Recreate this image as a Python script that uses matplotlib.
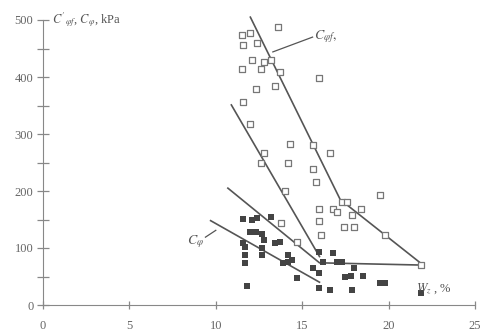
import matplotlib
matplotlib.use('Agg')
from matplotlib import pyplot as plt
from matplotlib.ticker import MultipleLocator

# open squares: C_phi_f
wf_x = [13.6, 11.5, 12.0, 11.6, 12.4, 12.1, 12.8, 13.2, 11.5, 12.6, 13.7, 12.3, 13.4, 11.6,
        16.0, 12.0, 14.3, 15.6, 12.8, 16.6, 12.6, 14.2, 15.6, 15.8, 14.0, 19.5, 17.3, 17.6,
        16.0, 16.8, 17.0, 18.4, 17.9, 16.0, 17.4, 18.0, 16.1, 19.8, 21.9, 13.8, 14.7]
cf_y = [488, 474, 477, 456, 460, 430, 426, 430, 414, 414, 409, 379, 384, 356,
        398, 318, 282, 281, 267, 267, 249, 249, 239, 216, 200, 193, 181, 181,
        168, 168, 163, 168, 158, 147, 137, 137, 123, 123, 70, 144, 111]

# filled squares: C_phi
w_x = [11.6, 12.1, 12.4, 13.2, 12.0, 12.3, 12.7, 12.8, 11.6, 11.7, 11.7, 11.7, 12.7, 13.4,
       13.7, 12.7, 14.2, 13.9, 14.2, 14.4, 14.7, 11.8, 16.0, 15.6, 16.0, 16.0, 16.6, 17.9,
       16.8, 16.2, 17.0, 17.3, 18.0, 17.5, 17.8, 18.5, 19.5, 19.8, 21.9]
c_y = [151, 149, 153, 154, 128, 128, 125, 114, 109, 102, 88, 74, 100, 109,
       111, 88, 88, 74, 75, 79, 47, 33, 93, 65, 56, 30, 26, 26,
       91, 75, 75, 75, 65, 49, 51, 51, 39, 39, 21]

# trend lines
line1_x = [12.0, 17.2, 22.0]
line1_y = [505, 185, 70]
line2_x = [10.9, 16.0]
line2_y = [351, 85]
line3_x = [10.7, 16.0, 22.0]
line3_y = [205, 74, 70]
line4_x = [9.7, 16.0]
line4_y = [148, 40]

plt.rcParams['font.family'] = ['Liberation Serif', 'DejaVu Serif']
plt.rcParams['mathtext.fontset'] = 'stix'

fig = plt.figure(figsize=(4.8, 3.34), dpi=100)
ax = fig.add_axes([43/480, 29/334, 432/480, 290.7/334])
ax.set_xlim(0, 25)
ax.set_ylim(0, 510)

gc = '#555555'
ax.plot(line1_x, line1_y, color=gc, lw=1.2)
ax.plot(line2_x, line2_y, color=gc, lw=1.2)
ax.plot(line3_x, line3_y, color=gc, lw=1.2)
ax.plot(line4_x, line4_y, color=gc, lw=1.2)

ax.scatter(wf_x, cf_y, marker='s', s=14, facecolors='white', edgecolors='#777777', linewidths=0.9, zorder=3)
ax.scatter(w_x, c_y, marker='s', s=13, color='#444444', linewidths=0, zorder=3)

# labels
ax.plot([13.3, 15.6], [444, 470], color=gc, lw=0.9)
ax.text(15.7, 470, r'$C_{\varphi f},$', fontsize=10, color='#555555', va='center', ha='left')
ax.plot([9.4, 10.0], [119, 131], color=gc, lw=0.9)
ax.text(9.3, 112, r'$C_{\varphi}$', fontsize=10, color='#555555', va='center', ha='right')

ax.text(0.5, 500, r"$C'_{\varphi f}$, $C_{\varphi}$, kPa", fontsize=9, color='#555555', va='center', ha='left')
ax.text(21.6, 28, r'$W_z$ , %', fontsize=9, color='#555555', va='center', ha='left')

for s in ['top', 'right']:
    ax.spines[s].set_visible(False)
ax.spines['left'].set_bounds(0, 500)
ax.spines['left'].set_color('#888888')
ax.spines['bottom'].set_color('#888888')

ax.set_xticks([0, 5, 10, 15, 20, 25])
ax.set_yticks([0, 100, 200, 300, 400, 500])
ax.yaxis.set_minor_locator(MultipleLocator(50))
ax.tick_params(axis='y', which='both', direction='inout', length=8, width=0.9, color='#888888',
               labelsize=9, labelcolor='#666666', pad=3)
ax.tick_params(axis='x', which='both', direction='inout', length=6, width=0.9, color='#888888',
               labelsize=9, labelcolor='#666666', pad=8)

fig.savefig('out.png', dpi=100)
